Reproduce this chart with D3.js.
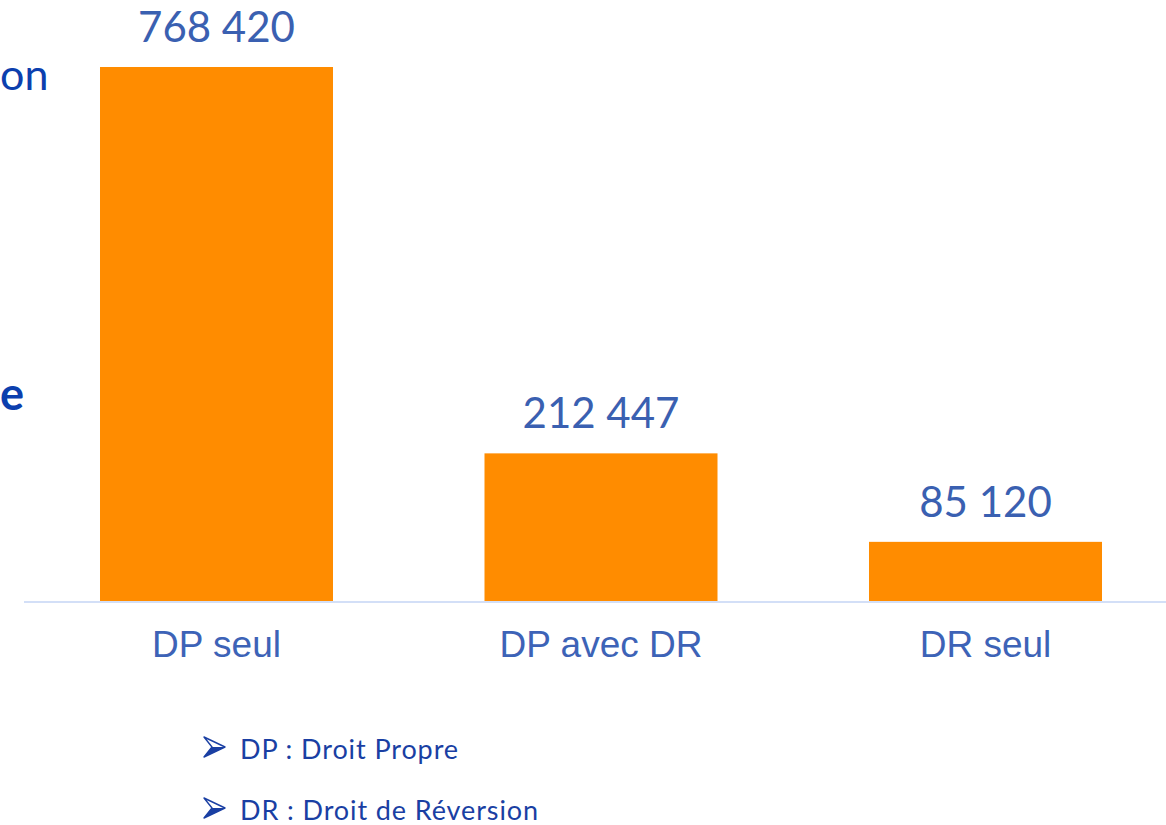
<!DOCTYPE html>
<html lang="fr">
<head>
<meta charset="utf-8">
<script src="https://cdn.jsdelivr.net/npm/d3@7"></script>
<style>
  html, body { margin: 0; padding: 0; background: #ffffff; }
  svg { display: block; }
</style>
</head>
<body>
<svg id="chart" width="1166" height="825"></svg>
<script>
// Nombre de pensions selon le type de droit
const categories = ["DP seul", "DP avec DR", "DR seul"];
const values = [768420, 212447, 85120];
const notes = ["DP : Droit Propre", "DR : Droit de Réversion"];
const sideFragments = ["on", "e"];

const svg = d3.select("#chart");
const W = 1166, H = 825;
const baseY = 601;

const x = d3.scaleBand()
  .domain(categories)
  .range([24.25, 1177.75])
  .paddingInner(0.394)
  .paddingOuter(0.197);

const y = d3.scaleLinear()
  .domain([0, 768420])
  .range([baseY, 67]);

const fr = d3.formatLocale({ decimal: ",", thousands: " ", grouping: [3], currency: ["", " €"] });
const fmt = fr.format(",d");

// Bars
svg.append("g").selectAll("rect")
  .data(values)
  .join("rect")
  .attr("x", (d, i) => x(categories[i]))
  .attr("y", d => y(d))
  .attr("width", x.bandwidth())
  .attr("height", d => y(0) - y(d))
  .attr("fill", "#ff8c00");

// Category axis
const xAxis = svg.append("g")
  .attr("transform", `translate(0,${baseY + 1})`)
  .call(d3.axisBottom(x).tickSize(0).tickPadding(0));
xAxis.select(".domain")
  .attr("d", `M24,0H${W}`)
  .attr("stroke", "#d3dff7")
  .attr("stroke-width", 2);
xAxis.selectAll(".tick text")
  .attr("y", 55)
  .attr("dy", null)
  .attr("font-family", "'Liberation Sans', Arial, sans-serif")
  .attr("font-size", 37)
  .attr("fill", "#3d63b7");

// Value labels
svg.append("g").selectAll("text")
  .data(values)
  .join("text")
  .attr("x", (d, i) => x(categories[i]) + x.bandwidth() / 2)
  .attr("y", d => y(d) - 25)
  .attr("text-anchor", "middle")
  .attr("font-family", "Lato, 'Open Sans', sans-serif")
  .attr("font-size", 42)
  .attr("fill", "#3a60b1")
  .text(d => fmt(d));

// Heading text along the left edge
svg.append("text")
  .attr("x", 0).attr("y", 90)
  .attr("font-family", "Lato, sans-serif")
  .attr("font-size", 43)
  .attr("fill", "#0c3fae")
  .text(sideFragments[0]);
svg.append("text")
  .attr("x", 0).attr("y", 410)
  .attr("font-family", "Lato, sans-serif")
  .attr("font-weight", "bold")
  .attr("font-size", 45)
  .attr("fill", "#0c3fae")
  .text(sideFragments[1]);

// Abbreviation notes with arrow bullets
const noteG = svg.append("g").selectAll("g")
  .data(notes)
  .join("g")
  .attr("transform", (d, i) => `translate(204,${759 + i * 61})`);

noteG.append("path")
  .attr("d", "M0,-22 L21,-12 L0,-2 L8,-12 Z")
  .attr("fill", "none")
  .attr("stroke", "#1a3fa3")
  .attr("stroke-width", 1.4)
  .attr("stroke-linejoin", "round");
noteG.append("path")
  .attr("d", "M8,-12 L21,-12 L0,-2 Z")
  .attr("fill", "#1a3fa3");

noteG.append("text")
  .attr("x", 36)
  .attr("y", 0)
  .attr("font-family", "Lato, 'Open Sans', sans-serif")
  .attr("font-size", 27)
  .attr("letter-spacing", 0.9)
  .attr("fill", "#1a3fa3")
  .text(d => d);
</script>
</body>
</html>
